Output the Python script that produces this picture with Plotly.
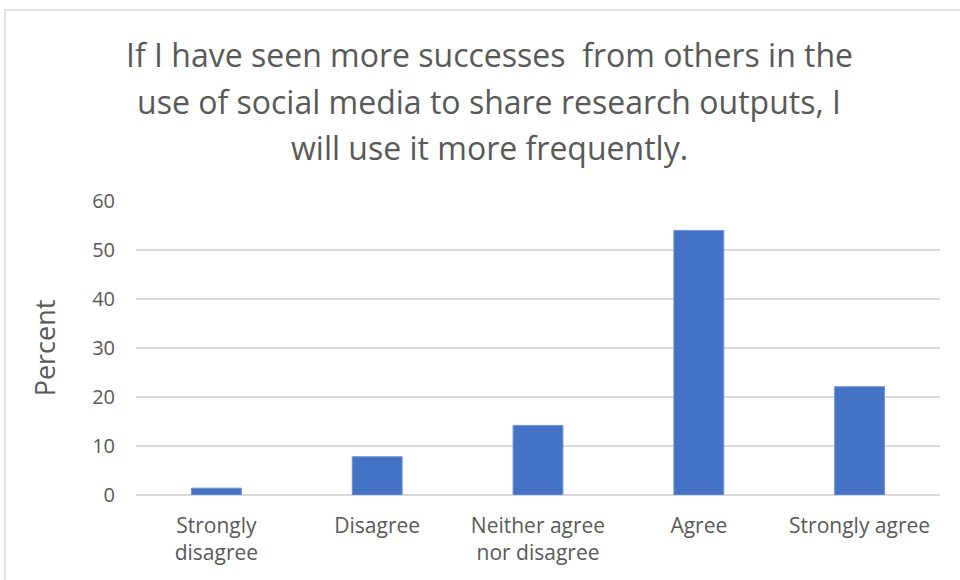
import plotly.graph_objects as go

categories = ["Strongly<br>disagree", "Disagree", "Neither agree<br>nor disagree", "Agree", "Strongly agree"]
percent = [1.4, 7.8, 14.2, 54.0, 22.1]
y_ticks = [0, 10, 20, 30, 40, 50, 60]
title_lines = [
    "If I have seen more successes  from others in the",
    "use of social media to share research outputs, I",
    "will use it more frequently.",
]
title_line_y = [55, 101, 147]

W, H = 960, 580
L, R, T, B = 136, 20, 201, 85
pw, ph = W - L - R, H - T - B

fig = go.Figure(go.Bar(
    x=categories, y=percent,
    marker=dict(color="#4472C4", line=dict(color="#6F93D4", width=1)),
    width=0.31,
))

grey = "#595959"
annotations = [
    dict(text=t, xref="paper", yref="paper", x=(489 - L) / pw, y=(H - B - yy) / ph,
         xanchor="center", yanchor="middle", showarrow=False,
         font=dict(size=32, color=grey))
    for t, yy in zip(title_lines, title_line_y)
]

fig.update_layout(
    width=W, height=H,
    margin=dict(l=L, r=R, t=T, b=B),
    paper_bgcolor="white", plot_bgcolor="white",
    font=dict(family="Open Sans, Segoe UI, sans-serif", color=grey),
    showlegend=False,
    annotations=annotations,
    xaxis=dict(showgrid=False, tickfont=dict(size=21, color=grey), ticks="", showline=False,
               ticklabelstandoff=16),
    yaxis=dict(range=[0, 60], tickvals=y_ticks, showgrid=True, gridcolor="#D9D9D9", gridwidth=1.5,
               zeroline=True, zerolinecolor="#D9D9D9", zerolinewidth=1.5,
               tickfont=dict(size=20, color=grey), ticklabelstandoff=20,
               title=dict(text="Percent", font=dict(size=27, color=grey), standoff=28)),
    shapes=[dict(type="rect", xref="paper", yref="paper",
                 x0=(5 - L) / pw, x1=(W + 20 - L) / pw,
                 y0=(H - B - (H + 20)) / ph, y1=(H - B - 10) / ph,
                 line=dict(color="#D9D9D9", width=1.5), fillcolor="rgba(0,0,0,0)")],
)

fig.write_html("out.html", config={"displayModeBar": False},
               post_script="document.body.style.margin='0px';document.body.style.overflow='hidden';")
